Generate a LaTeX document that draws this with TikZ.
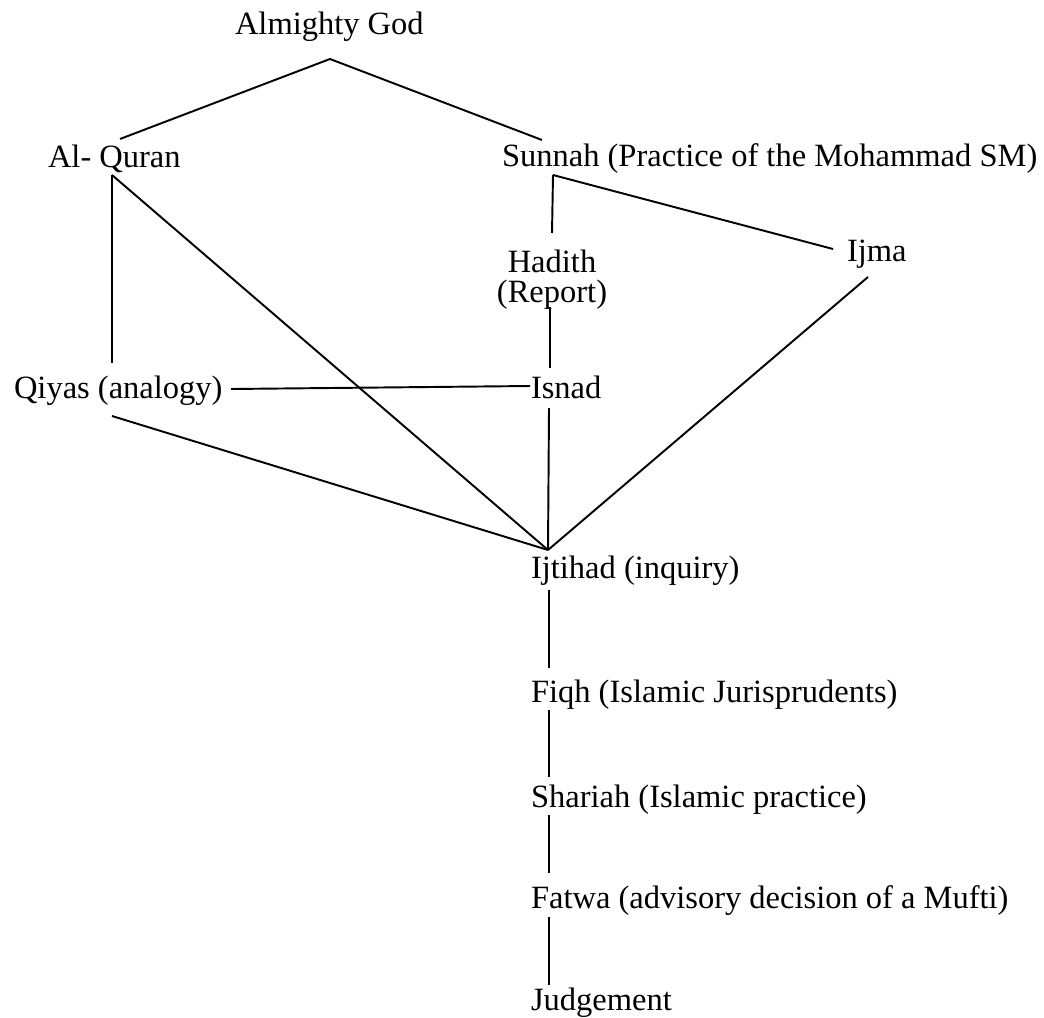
\documentclass[tikz,border=0pt]{standalone}
\usepackage{fontspec}
\setmainfont{Liberation Serif}
\usepackage{tikz}
\usetikzlibrary{positioning}

\begin{document}
\begin{tikzpicture}[
    x=0.02cm, y=-0.02cm,
    term/.style={inner sep=0pt, outer sep=0pt, anchor=base west, font=\fontsize{18.5pt}{21pt}\selectfont},
    link/.style={line width=1.1pt, black}
]
    \useasboundingbox (0,0) rectangle (1044,1017);

    \node[term] (god) at (235,35) {Almighty God};
    \node[term] (quran) at (48,167) {Al- Quran};
    \node[term] (sunnah) at (502,166) {Sunnah (Practice of the Mohammad SM)};
    \node[term, anchor=north, align=center, font=\fontsize{18.5pt}{16.8pt}\selectfont] (hadith) at (552,250) {Hadith\\(Report)};
    \node[term] (ijma) at (847,261) {Ijma};
    \node[term] (qiyas) at (14,398) {Qiyas (analogy)};
    \node[term] (isnad) at (531,398) {Isnad};
    \node[term] (ijtihad) at (531,578) {Ijtihad (inquiry)};
    \node[term] (fiqh) at (531,702) {Fiqh (Islamic Jurisprudents)};
    \node[term] (shariah) at (531,807) {Shariah (Islamic practice)};
    \node[term] (fatwa) at (531,908) {Fatwa (advisory decision of a Mufti)};
    \node[term] (judge) at (531,1010) {Judgement};

    % sources
    \draw[link] ([shift={(72,-28)}]quran.base west) -- ([shift={(95,24)}]god.base west) -- ([shift={(40,-26)}]sunnah.base west);
    \draw[link] ([shift={(64,8)}]quran.base west) -- ([shift={(98,-35)}]qiyas.base west);
    \draw[link] ([shift={(64,8)}]quran.base west) -- ([shift={(17,-28)}]ijtihad.base west);
    \draw[link] ([shift={(51,9)}]sunnah.base west) -- ([shift={(0,-17)}]hadith.north);
    \draw[link] ([shift={(51,9)}]sunnah.base west) -- ([shift={(-14,-12)}]ijma.base west);
    \draw[link] ([shift={(-2,57)}]hadith.north) -- ([shift={(19,-30)}]isnad.base west);
    \draw[link] ([shift={(217,-9)}]qiyas.base west) -- ([shift={(-1,-12)}]isnad.base west);

    % into ijtihad
    \draw[link] ([shift={(98,18)}]qiyas.base west) -- ([shift={(17,-28)}]ijtihad.base west);
    \draw[link] ([shift={(18,10)}]isnad.base west) -- ([shift={(17,-28)}]ijtihad.base west);
    \draw[link] ([shift={(21,16)}]ijma.base west) -- ([shift={(17,-28)}]ijtihad.base west);

    % chain down
    \draw[link] ([shift={(18,12)}]ijtihad.base west) -- ([shift={(18,-34)}]fiqh.base west);
    \draw[link] ([shift={(18,8)}]fiqh.base west) -- ([shift={(18,-30)}]shariah.base west);
    \draw[link] ([shift={(18,8)}]shariah.base west) -- ([shift={(18,-35)}]fatwa.base west);
    \draw[link] ([shift={(18,9)}]fatwa.base west) -- ([shift={(18,-25)}]judge.base west);
\end{tikzpicture}
\end{document}
